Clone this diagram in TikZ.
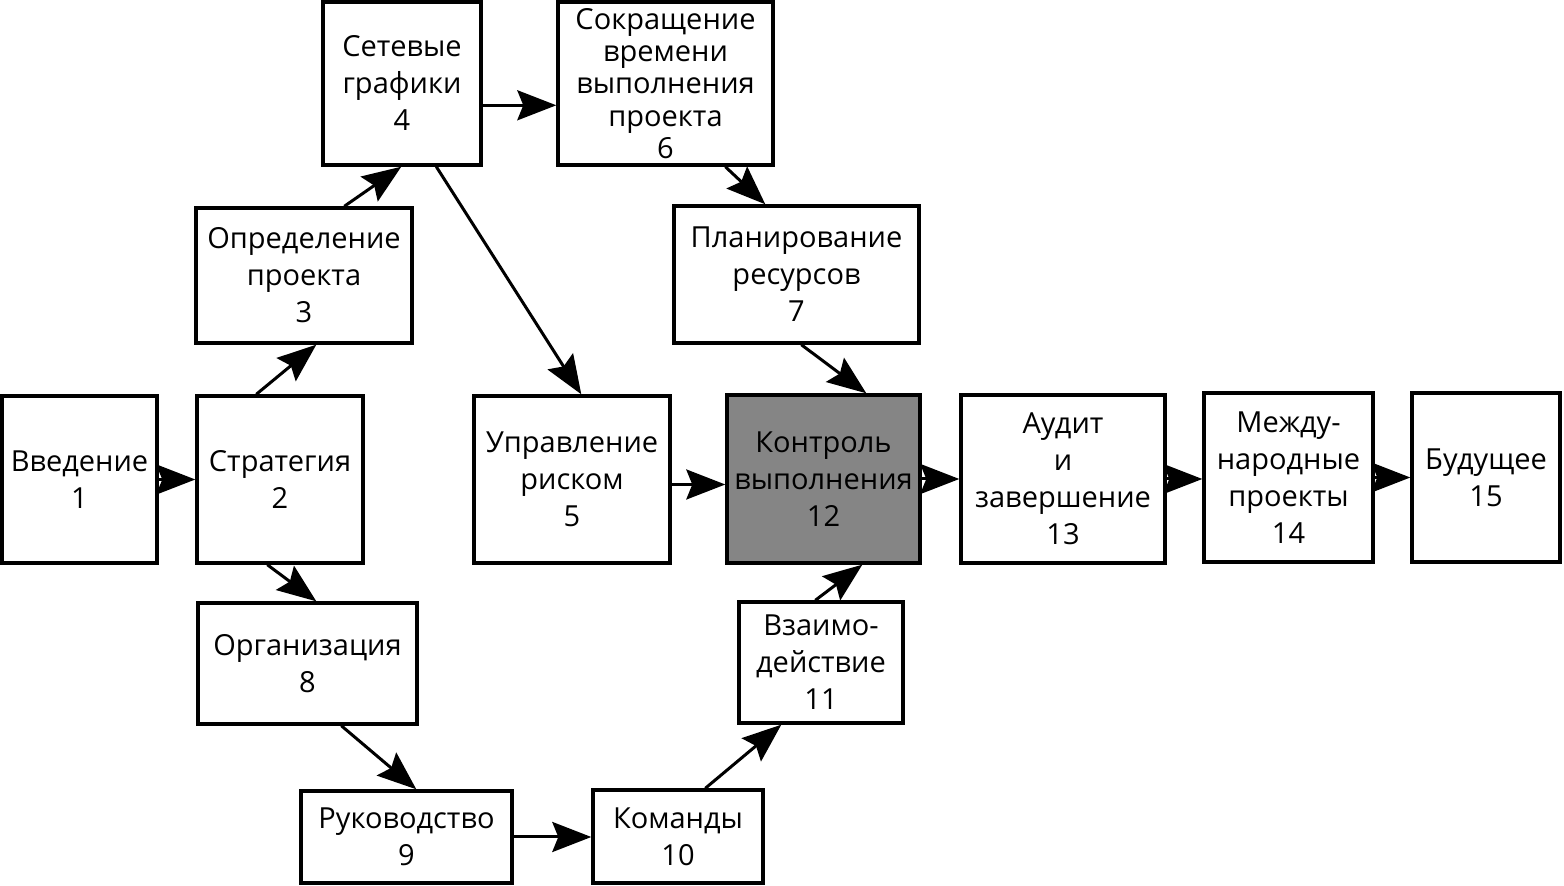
\documentclass[tikz,border=0pt]{standalone}
\usepackage{fontspec}
\setmainfont{Open Sans}
\usetikzlibrary{arrows.meta,calc}
\begin{document}
\begin{tikzpicture}[x=0.5pt,y=-0.5pt,
  box/.style={draw=black, line width=1.7pt, fill=white, align=center, inner sep=0pt, text=black,
    font=\fontsize{14.5}{18.5}\selectfont},
  hot/.style={fill=black!48},
  tight/.style={font=\fontsize{14.5}{16.2}\selectfont},
  arr/.style={line width=1.5pt, -{Stealth[length=19.5pt,width=15pt,inset=3pt]}}]
\useasboundingbox[fill=white] (0,0) rectangle (1564,886);
% nodes
\node[box, minimum width=77.5pt, minimum height=83.5pt] (n1) at (79.5,479.5) {Введение\\1};
\node[box, minimum width=83pt, minimum height=83.5pt] (n2) at (280,479.5) {Стратегия\\2};
\node[box, minimum width=108pt, minimum height=67.5pt] (n3) at (304,275.5) {Определение\\проекта\\3};
\node[box, minimum width=79pt, minimum height=81.5pt] (n4) at (402,83.5) {Сетевые\\графики\\4};
\node[box, minimum width=98pt, minimum height=83.5pt] (n5) at (572,479.5) {Управление\\риском\\5};
\node[box, tight, minimum width=107.5pt, minimum height=81.5pt] (n6) at (665.5,83.5) {Сокращение\\времени\\выполнения\\проекта\\6};
\node[box, minimum width=122.5pt, minimum height=68.5pt] (n7) at (796.5,274.5) {Планирование\\ресурсов\\7};
\node[box, minimum width=109.5pt, minimum height=60.5pt] (n8) at (307.5,663.5) {Организация\\8};
\node[box, minimum width=105.5pt, minimum height=46pt] (n9) at (406.5,837) {Руководство\\9};
\node[box, minimum width=85pt, minimum height=46.5pt] (n10) at (678,836.5) {Команды\\10};
\node[box, minimum width=82pt, minimum height=60.5pt] (n11) at (821,662.5) {Взаимо-\\действие\\11};
\node[box, hot, minimum width=96.5pt, minimum height=84pt] (n12) at (823.5,479) {Контроль\\выполнения\\12};
\node[box, minimum width=102pt, minimum height=84pt] (n13) at (1063,479) {Аудит\\и\\завершение\\13};
\node[box, minimum width=84.5pt, minimum height=84.5pt] (n14) at (1288.5,477.5) {Между-\\народные\\проекты\\14};
\node[box, minimum width=74pt, minimum height=84.5pt] (n15) at (1486,477.5) {Будущее\\15};
% connectors
\draw[arr] (n1.east) -- (n1.east -| n2.west);
\draw[arr] ($(n2.north west)+(61,0)$) -- ($(n3.south west)+(122,0)$);
\draw[arr] ($(n3.north west)+(150,0)$) -- ($(n4.south west)+(80,0)$);
\draw[arr] ($(n2.south west)+(72,0)$) -- ($(n8.north west)+(120,0)$);
\coordinate (c46) at ($(n4.north east)+(0,105)$);
\draw[arr] (c46) -- (c46 -| n6.west);
\draw[arr] ($(n4.south west)+(115,0)$) -- ($(n5.north west)+(109,0)$);
\draw[arr] ($(n6.south west)+(169,0)$) -- ($(n7.north west)+(93,0)$);
\draw[arr] ($(n7.south west)+(129,0)$) -- ($(n12.north west)+(141,0)$);
\coordinate (c5) at ($(n5.east)+(0,5)$);
\draw[arr] (c5) -- (c5 -| n12.west);
\draw[arr] ($(n11.north west)+(78,0)$) -- ($(n12.south west)+(137,0)$);
\draw[arr] (n12.east) -- (n12.east -| n13.west);
\draw[arr] (n13.east) -- (n13.east -| n14.west);
\draw[arr] (n14.east) -- (n14.east -| n15.west);
\draw[arr] ($(n8.south west)+(145,0)$) -- ($(n9.north west)+(117,0)$);
\draw[arr] (n9.east) -- (n9.east -| n10.west);
\draw[arr] ($(n10.north west)+(114,0)$) -- ($(n11.south west)+(44,0)$);
\end{tikzpicture}
\end{document}
